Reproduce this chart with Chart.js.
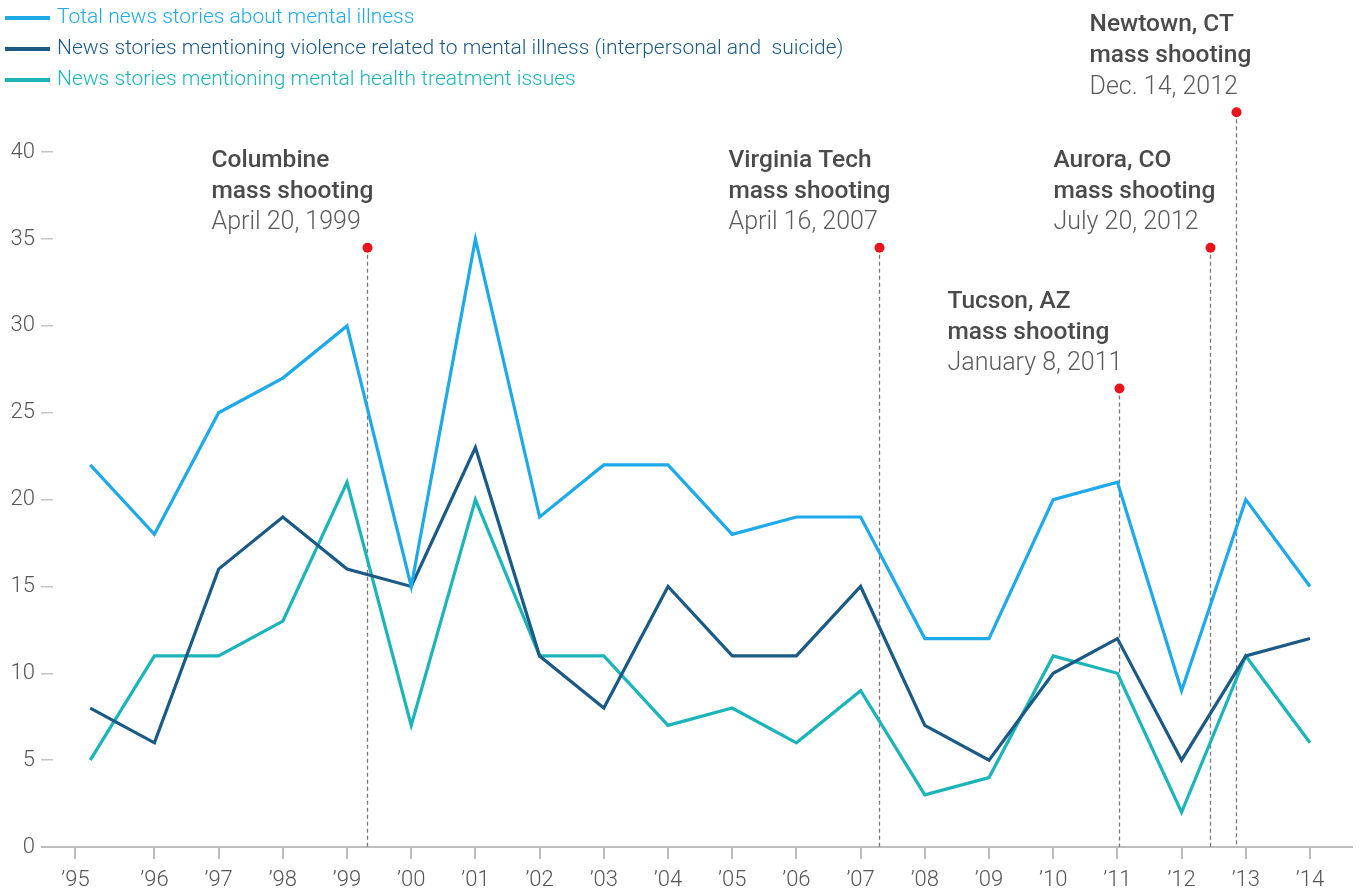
<!DOCTYPE html>
<html>
<head>
<meta charset="utf-8">
<title>News stories about mental illness</title>
<script src="https://cdn.jsdelivr.net/npm/chart.js@4.4.0/dist/chart.umd.min.js"></script>
<style>
    body { margin: 0; background: #fff; }
    .chart-box { position: relative; width: 1360px; height: 892px; }
</style>
</head>
<body>
<div class="chart-box"><canvas id="newsChart"></canvas></div>
<script>
// Data
const years = [1995, 1996, 1997, 1998, 1999, 2000, 2001, 2002, 2003, 2004,
               2005, 2006, 2007, 2008, 2009, 2010, 2011, 2012, 2013, 2014];
const totalStories     = [22, 18, 25, 27, 30, 15, 35, 19, 22, 22, 18, 19, 19, 12, 12, 20, 21, 9, 20, 15];
const violenceStories  = [8, 6, 16, 19, 16, 15, 23, 11, 8, 15, 11, 11, 15, 7, 5, 10, 12, 5, 11, 12];
const treatmentStories = [5, 11, 11, 13, 21, 7, 20, 11, 11, 7, 8, 6, 9, 3, 4, 11, 10, 2, 11, 6];

const xTickValues = [1994.77, 1996, 1997, 1998, 1999, 2000, 2001, 2002, 2003, 2004,
                     2005, 2006, 2007, 2008, 2009, 2010, 2011, 2012, 2013, 2014];
const xTickLabels = ['\u201995', '\u201996', '\u201997', '\u201998', '\u201999', '\u201900', '\u201901', '\u201902', '\u201903', '\u201904',
                     '\u201905', '\u201906', '\u201907', '\u201908', '\u201909', '\u201910', '\u201911', '\u201912', '\u201913', '\u201914'];
const yTickValues = [0, 5, 10, 15, 20, 25, 30, 35, 40];

// Shootings
const eventNames  = ['Columbine', 'Virginia Tech', 'Tucson, AZ', 'Aurora, CO', 'Newtown, CT'];
const eventDates  = ['April 20, 1999', 'April 16, 2007', 'January 8, 2011', 'July 20, 2012', 'Dec. 14, 2012'];
const eventYears  = [1999.31, 2007.28, 2011.03, 2012.45, 2012.84];
const eventMarks  = [34.5, 34.5, 26.4, 34.5, 42.3];

// label placement (px left of the marker line)
const eventLabelShift = [156, 151, 172, 157, 147];

const seriesLabels = [
    'Total news stories about mental illness',
    'News stories mentioning violence related to mental illness (interpersonal and  suicide)',
    'News stories mentioning mental health treatment issues'
];
const seriesColors = ['#1ea9e9', '#1b5a84', '#1bb5b9'];

const FONT = 'Roboto, "Liberation Sans", sans-serif';

function toPoints(values) {
    return values.map(function(v, i) { return { x: years[i], y: v }; });
}

const overlayPlugin = {
    id: 'overlay',
    beforeDatasetsDraw: function(chart) {
        const ctx = chart.ctx;
        const xs = chart.scales.x;
        const ys = chart.scales.y;
        const area = chart.chartArea;
        const base = ys.getPixelForValue(0);

        ctx.save();
        // baseline
        ctx.strokeStyle = '#bdbdbd';
        ctx.lineWidth = 2;
        ctx.beginPath();
        ctx.moveTo(area.left - 12, base);
        ctx.lineTo(area.right, base);
        ctx.stroke();

        eventYears.forEach(function(yr, i) {
            const px = Math.round(xs.getPixelForValue(yr)) + 0.5;
            const py = ys.getPixelForValue(eventMarks[i]);

            ctx.strokeStyle = '#777';
            ctx.lineWidth = 1.3;
            ctx.setLineDash([4, 3]);
            ctx.beginPath();
            ctx.moveTo(px, py);
            ctx.lineTo(px, base);
            ctx.stroke();
            ctx.setLineDash([]);

            ctx.fillStyle = '#e8141c';
            ctx.beginPath();
            ctx.arc(px, py, 5, 0, Math.PI * 2);
            ctx.fill();

            const tx = px - eventLabelShift[i];
            ctx.textBaseline = 'middle';
            ctx.textAlign = 'left';
            ctx.fillStyle = '#4a4a4a';
            ctx.font = '500 24.5px ' + FONT;
            ctx.fillText(eventNames[i], tx, py - 87);
            ctx.fillText('mass shooting', tx, py - 56);
            ctx.fillStyle = '#5a5a5a';
            ctx.font = '300 25px ' + FONT;
            ctx.fillText(eventDates[i], tx, py - 25);
        });

        // legend
        chart.data.datasets.forEach(function(ds, i) {
            const ly = 18 + i * 31;
            ctx.strokeStyle = ds.borderColor;
            ctx.lineWidth = 4;
            ctx.beginPath();
            ctx.moveTo(5, ly);
            ctx.lineTo(50, ly);
            ctx.stroke();
            ctx.fillStyle = ds.borderColor;
            ctx.font = '300 21px ' + FONT;
            ctx.textBaseline = 'middle';
            ctx.fillText(ds.label, 57, ly);
        });
        ctx.restore();
    }
};

const ctx = document.getElementById('newsChart').getContext('2d');
const newsChart = new Chart(ctx, {
    type: 'line',
    data: {
        datasets: [totalStories, violenceStories, treatmentStories].map(function(vals, i) {
            return {
                label: seriesLabels[i],
                data: toPoints(vals),
                borderColor: seriesColors[i],
                backgroundColor: seriesColors[i],
                borderWidth: 3.2,
                pointRadius: 0,
                tension: 0,
                fill: false
            };
        })
    },
    options: {
        responsive: true,
        maintainAspectRatio: false,
        animation: false,
        layout: { padding: { left: 0, right: 7, top: 0, bottom: 0 } },
        plugins: {
            legend: { display: false },
            tooltip: { enabled: false }
        },
        scales: {
            x: {
                type: 'linear',
                min: 1994.42,
                max: 2014.67,
                afterBuildTicks: function(scale) {
                    scale.ticks = xTickValues.map(function(v) { return { value: v }; });
                },
                afterFit: function(scale) { scale.height = 45; },
                grid: {
                    drawOnChartArea: false,
                    drawTicks: true,
                    tickLength: 12,
                    tickColor: '#bdbdbd',
                    lineWidth: 2
                },
                border: { display: false },
                ticks: {
                    autoSkip: false,
                    maxRotation: 0,
                    padding: 8,
                    color: '#555',
                    font: { family: FONT, size: 22, weight: '300' },
                    callback: function(value, index) { return xTickLabels[index]; }
                }
            },
            y: {
                min: 0,
                max: 47.66,
                afterBuildTicks: function(scale) {
                    scale.ticks = yTickValues.map(function(v) { return { value: v }; });
                },
                afterFit: function(scale) { scale.width = 53; },
                grid: {
                    drawOnChartArea: false,
                    drawTicks: true,
                    tickLength: 12,
                    tickColor: '#c4c4c4',
                    lineWidth: 1.5
                },
                border: { display: false },
                ticks: {
                    padding: 6,
                    color: '#555',
                    font: { family: FONT, size: 22, weight: '300' }
                }
            }
        }
    },
    plugins: [overlayPlugin]
});
</script>
</body>
</html>
